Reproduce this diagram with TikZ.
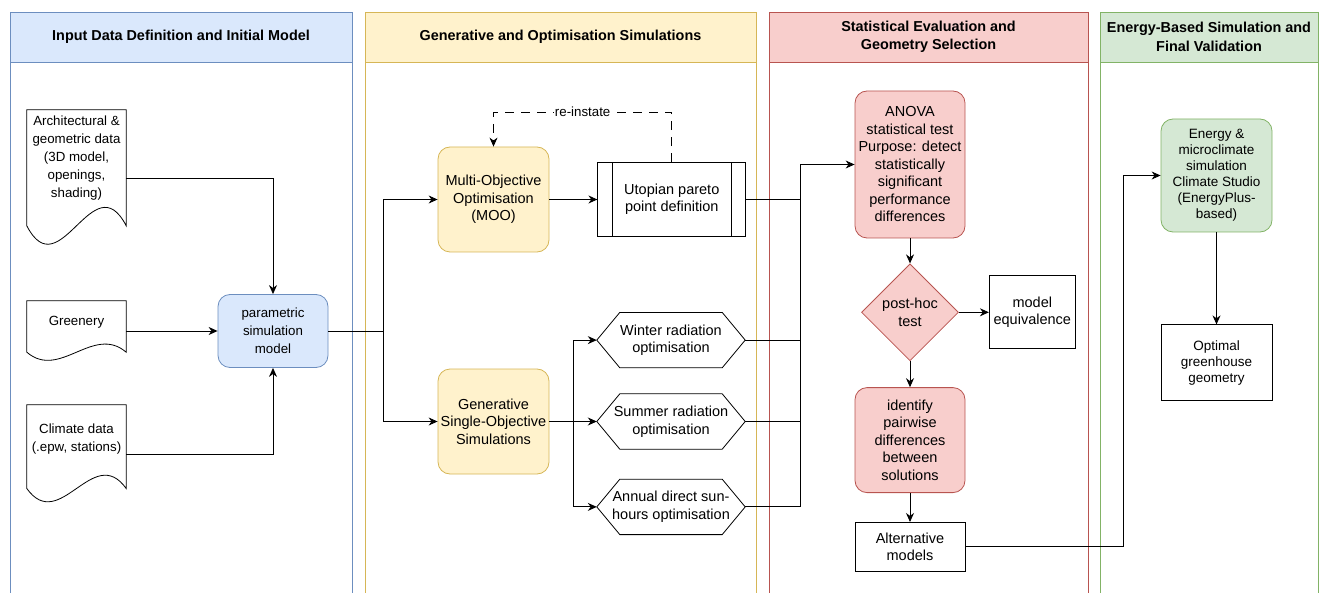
\documentclass[tikz,border=0pt]{standalone}
\usepackage{fontspec}
\setmainfont{Liberation Sans}
\usetikzlibrary{positioning, arrows.meta, shapes.geometric, calc}
\definecolor{lnblue}{HTML}{6C8EBF}
\definecolor{fillblue}{HTML}{DAE8FC}
\definecolor{lnyel}{HTML}{D6B656}
\definecolor{fillyel}{HTML}{FFF2CC}
\definecolor{lnred}{HTML}{B85450}
\definecolor{fillred}{HTML}{F8CECC}
\definecolor{lngrn}{HTML}{82B366}
\definecolor{fillgrn}{HTML}{D5E8D4}
\newcommand{\fsmall}{\fontsize{13.3}{18}\selectfont}
\newcommand{\fmid}{\fontsize{14.5}{17.5}\selectfont}
\newcommand{\fen}{\fontsize{13.5}{16}\selectfont}
\tikzset{
  lanehead/.style = {draw=ln#1, fill=fill#1, line width=0.8pt,
                     minimum height=50pt, align=center, inner sep=0pt,
                     font=\fontsize{14.4}{18.5}\selectfont\bfseries},
  lanebody/.style = {draw=ln#1, line width=0.8pt},
  stepbox/.style  = {draw=ln#1, fill=fill#1, rounded corners=12pt,
                     line width=0.8pt, align=center, inner sep=0pt},
  plainbox/.style = {draw, line width=0.8pt, align=center, inner sep=0pt},
  docbox/.style   = {align=center, inner sep=0pt, minimum width=99pt,
                     font=\fsmall},
  hexbox/.style   = {align=center, inner sep=0pt, minimum width=148pt,
                     minimum height=55pt, font=\fmid},
  decision/.style = {diamond, draw=lnred, fill=fillred, aspect=1,
                     minimum size=97pt, inner sep=0pt, line width=0.8pt,
                     align=center, font=\fmid},
  flow/.style     = {-{Stealth[length=9pt, width=8pt]}, line width=0.9pt},
  wire/.style     = {line width=0.9pt},
}

\begin{document}
\begin{tikzpicture}[x=1pt, y=-1pt]
        \useasboundingbox (0,0) rectangle (1321,593);
        % swimlanes
        \draw[lanebody=blue] (10,62) rectangle (352,600);
        \draw[lanebody=yel]  (365,62) rectangle (756,600);
        \draw[lanebody=red]  (769,62) rectangle (1088,600);
        \draw[lanebody=grn]  (1100,62) rectangle (1318,600);
        \node[lanehead=blue, minimum width=342pt] (lane1) at (181,37)
             {Input Data Definition and Initial Model};
        \node[lanehead=yel, minimum width=391pt] (lane2) at (560.5,37)
             {Generative and Optimisation Simulations};
        \node[lanehead=red, minimum width=319pt] (lane3) at (928.5,37)
             {Statistical Evaluation and\\Geometry Selection};
        \node[lanehead=grn, minimum width=218pt] (lane4) at (1209,37)
             {Energy-Based Simulation and\\Final Validation};

        % inputs
        \node[docbox, minimum height=95.2pt] (arch) at (76.5,157.6)
             {Architectural \&\\geometric data\\(3D model,\\openings,\\shading)};
        \node[docbox, minimum height=42pt] (green) at (76.5,322) {Greenery};
        \node[docbox, minimum height=68.6pt] (clim) at (76.5,439.3)
             {Climate data\\(.epw, stations)};
        \foreach \nm/\dy in {arch/20.4, green/9, clim/14.7}{
          \pgfmathsetmacro\amp{3.13*\dy}
          \draw[wire, line width=0.8pt] (\nm.north west) -- (\nm.north east)
            -- ($(\nm.south east)+(0,\dy)$)
            .. controls ($(\nm.south east)+(-33,\dy-\amp)$)
                    and ($(\nm.south west)+(33,\dy+\amp)$)
            .. ($(\nm.south west)+(0,\dy)$) -- cycle;
        }
        \node[stepbox=blue, minimum width=110pt, minimum height=73pt,
              font=\fsmall] (param) at (273,331) {parametric\\simulation\\model};

        % optimisation
        \node[stepbox=yel, minimum width=111pt, minimum height=105pt,
              font=\fmid] (moo) at (493.5,199.5) {Multi-Objective\\Optimisation\\(MOO)};
        \node[plainbox, right=48pt of moo, minimum width=148pt,
              minimum height=74pt, font=\fmid] (uto) {Utopian pareto\\point definition};
        \draw[line width=0.8pt] ([xshift=15pt]uto.north west) -- ([xshift=15pt]uto.south west);
        \draw[line width=0.8pt] ([xshift=-15pt]uto.north east) -- ([xshift=-15pt]uto.south east);
        \node[stepbox=yel, minimum width=111pt, minimum height=105pt,
              font=\fmid] (gso) at (493.5,421.5) {Generative\\Single-Objective\\Simulations};
        \node[hexbox] (summer) at (671,421.5) {Summer radiation\\optimisation};
        \node[hexbox, above=26pt of summer] (winter) {Winter radiation\\optimisation};
        \node[hexbox, below=30pt of summer] (annual) {Annual direct sun-\\hours optimisation};
        \foreach \hx in {winter, summer, annual}{
          \draw[line width=0.8pt] (\hx.west) -- ([xshift=23pt]\hx.north west)
            -- ([xshift=-23pt]\hx.north east) -- (\hx.east)
            -- ([xshift=-23pt]\hx.south east) -- ([xshift=23pt]\hx.south west) -- cycle;
        }

        % statistics
        \node[stepbox=red, minimum width=110pt, minimum height=147pt,
              font=\fmid] (anova) at (910,164.5)
             {ANOVA\\statistical test\\Purpose: detect\\statistically\\significant\\performance\\differences};
        \node[decision, below=25pt of anova] (posthoc) {post-hoc\\test};
        \node[plainbox, right=30pt of posthoc, minimum width=86pt,
              minimum height=73pt, font=\fmid] (equiv) {model\\equivalence};
        \node[stepbox=red, below=26pt of posthoc, minimum width=110pt,
              minimum height=105pt, font=\fmid] (ident)
             {identify\\pairwise\\differences\\between\\solutions};
        \node[plainbox, below=29pt of ident, minimum width=110pt,
              minimum height=49pt, font=\fmid] (alt) {Alternative\\models};

        % energy
        \node[stepbox=grn, minimum width=111pt, minimum height=113pt,
              font=\fen] (energy) at (1216.5,175.5)
             {Energy \&\\microclimate\\simulation\\Climate Studio\\(EnergyPlus-\\based)};
        \node[plainbox, below=92pt of energy, minimum width=111pt,
              minimum height=76pt, font=\fen] (optimal) {Optimal\\greenhouse\\geometry};

        % connectors
        \coordinate (j1) at (383.5,331);
        \coordinate (j2) at (573,421.5);
        \coordinate (j3) at (800,164.5);
        \coordinate (j4) at (1123,300);
        \draw[flow] ([yshift=-20.4pt]arch.east) -| (param.north);
        \draw[flow] ([yshift=-9pt]green.east) -- (param.west);
        \draw[flow] ([yshift=-14.7pt]clim.east) -| (param.south);
        \draw[wire] (param.east) -- (j1);
        \draw[flow] (j1) |- (moo.west);
        \draw[flow] (j1) |- (gso.west);
        \draw[flow] (moo) -- (uto);
        \draw[flow, dash pattern=on 9pt off 7pt] (uto.north) -- ++(0,-50) -| (moo.north)
             node[pos=0.25, fill=white, inner sep=1pt, font=\fsmall] (reinst) {re-instate};
        \draw[wire] (gso.east) -- (j2);
        \draw[flow] (j2) |- (winter.west);
        \draw[flow] (j2) -- (summer.west);
        \draw[flow] (j2) |- (annual.west);
        \foreach \src in {uto, winter, summer, annual}
          \draw[wire] (\src.east) -| (j3);
        \draw[flow] (j3) -- (anova.west);
        \draw[flow] (anova) -- (posthoc);
        \draw[flow] (posthoc) -- (equiv);
        \draw[flow] (posthoc) -- (ident);
        \draw[flow] (ident) -- (alt);
        \draw[flow] (alt.east) -| (j4) |- (energy.west);
        \draw[flow] (energy) -- (optimal);
      \end{tikzpicture}
\end{document}
